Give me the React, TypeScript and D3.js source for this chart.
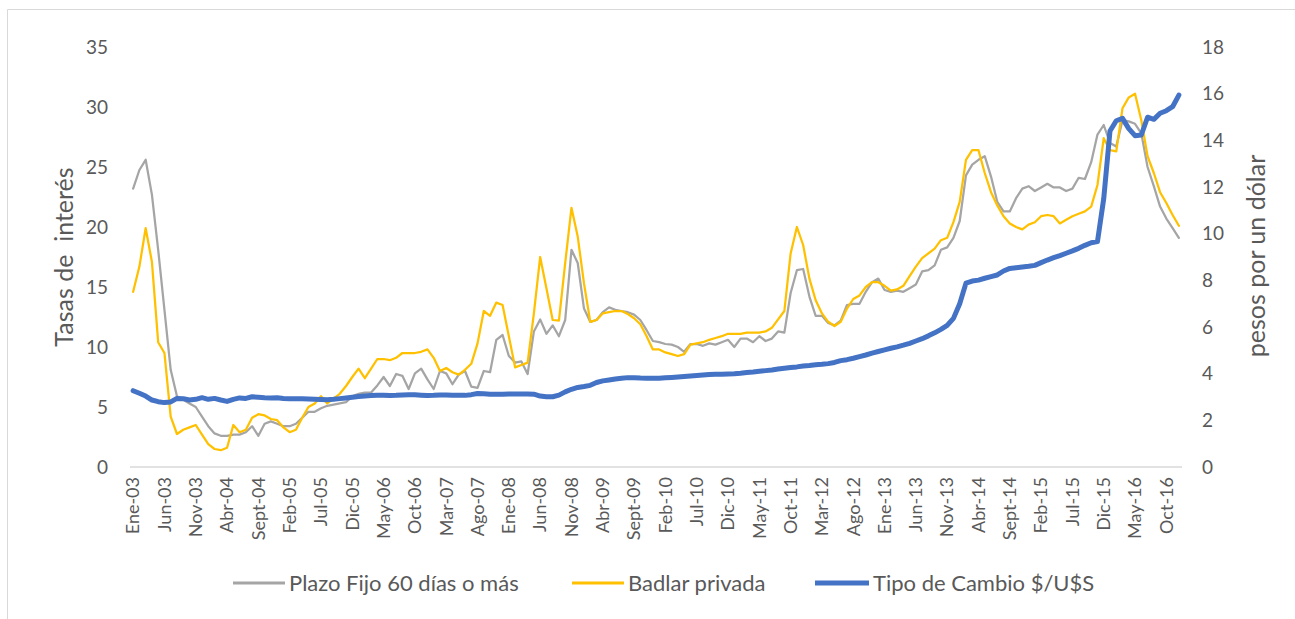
import React from "react";
import * as d3 from "d3";

const plazoFijo: number[] = [
  23.2, 24.75, 25.6, 22.7, 18.1, 13.1, 8.1, 5.9, 5.6, 5.3, 5.0, 4.2,
  3.4, 2.8, 2.6, 2.6, 2.7, 2.7, 2.9, 3.4, 2.6, 3.6, 3.8, 3.6,
  3.4, 3.4, 3.6, 4.1, 4.6, 4.6, 4.9, 5.1, 5.2, 5.3, 5.4, 5.9,
  6.1, 6.2, 6.2, 6.8, 7.5, 6.75, 7.75, 7.6, 6.5, 7.8, 8.2, 7.3,
  6.5, 8.0, 7.8, 6.9, 7.7, 8.0, 6.7, 6.6, 8.0, 7.9, 10.6, 11.0,
  9.25, 8.7, 8.8, 7.75, 11.3, 12.3, 11.1, 11.8, 10.9, 12.25, 18.1, 17.0,
  13.2, 12.1, 12.25, 12.9, 13.3, 13.1, 13.0, 12.9, 12.7, 12.25, 11.4, 10.5,
  10.4, 10.25, 10.2, 10.0, 9.6, 10.25, 10.25, 10.1, 10.3, 10.2, 10.4, 10.6,
  10.0, 10.7, 10.7, 10.4, 10.9, 10.5, 10.7, 11.3, 11.2, 14.5, 16.4, 16.5,
  14.2, 12.6, 12.6, 12.0, 11.8, 12.2, 13.5, 13.6, 13.6, 14.6, 15.4, 15.7,
  14.75, 14.6, 14.7, 14.6, 14.9, 15.2, 16.3, 16.4, 16.8, 18.1, 18.3, 19.1,
  20.5, 24.3, 25.2, 25.6, 25.9, 24.2, 22.1, 21.3, 21.3, 22.4, 23.2, 23.4,
  23.0, 23.3, 23.6, 23.3, 23.3, 23.0, 23.2, 24.1, 24.0, 25.4, 27.7, 28.5,
  27.0, 26.7, 28.9, 28.8, 28.6, 27.8, 25.0, 23.4, 21.7, 20.7, 19.9, 19.1,
];

const badlar: number[] = [
  14.6, 16.7, 19.9, 17.1, 10.4, 9.5, 4.2, 2.75, 3.1, 3.3, 3.5, 2.7,
  1.9, 1.5, 1.4, 1.6, 3.5, 2.9, 3.1, 4.1, 4.4, 4.3, 4.0, 3.9,
  3.3, 2.9, 3.1, 4.1, 5.0, 5.3, 5.9, 5.3, 5.7, 6.1, 6.75, 7.5,
  8.2, 7.4, 8.2, 9.0, 9.0, 8.9, 9.1, 9.5, 9.5, 9.5, 9.6, 9.8,
  9.1, 8.0, 8.25, 7.9, 7.7, 8.1, 8.6, 10.3, 13.0, 12.6, 13.7, 13.5,
  10.9, 8.3, 8.5, 8.7, 12.8, 17.5, 14.9, 12.25, 12.2, 17.0, 21.6, 19.2,
  15.3, 12.1, 12.25, 12.8, 12.9, 13.0, 13.0, 12.75, 12.4, 11.9, 10.9, 9.8,
  9.8, 9.55, 9.4, 9.25, 9.4, 10.2, 10.3, 10.4, 10.6, 10.75, 10.9, 11.1,
  11.1, 11.1, 11.2, 11.2, 11.2, 11.3, 11.6, 12.3, 13.0, 17.8, 20.0, 18.5,
  15.7, 13.9, 12.8, 12.1, 11.75, 12.1, 13.2, 14.0, 14.3, 15.0, 15.4, 15.4,
  15.1, 14.7, 14.8, 15.1, 15.9, 16.7, 17.4, 17.8, 18.2, 18.9, 19.1, 20.4,
  22.1, 25.6, 26.4, 26.4, 24.5, 22.9, 21.8, 20.9, 20.3, 20.0, 19.8, 20.2,
  20.4, 20.9, 21.0, 20.9, 20.3, 20.6, 20.9, 21.1, 21.3, 21.7, 23.5, 27.4,
  26.4, 26.3, 29.9, 30.8, 31.1, 28.9, 25.9, 24.5, 22.9, 22.0, 21.0, 20.1,
];

const tipoCambio: number[] = [
  3.27, 3.16, 3.04, 2.87, 2.8, 2.76, 2.79, 2.94, 2.93, 2.87, 2.9, 2.97,
  2.9, 2.94, 2.87, 2.81, 2.9, 2.96, 2.94, 3.01, 2.99, 2.97, 2.96, 2.97,
  2.94, 2.93, 2.93, 2.92, 2.91, 2.9, 2.89, 2.88, 2.9, 2.93, 2.96, 2.99,
  3.02, 3.04, 3.06, 3.08, 3.07, 3.06, 3.07, 3.09, 3.1, 3.1, 3.08, 3.06,
  3.07, 3.09, 3.09, 3.07, 3.07, 3.07, 3.1, 3.15, 3.14, 3.12, 3.12, 3.12,
  3.13, 3.13, 3.13, 3.13, 3.12, 3.04, 3.01, 3.01, 3.08, 3.22, 3.33, 3.41,
  3.45, 3.5, 3.62, 3.69, 3.73, 3.77, 3.8, 3.83, 3.83, 3.81, 3.8, 3.8,
  3.8, 3.82, 3.84, 3.86, 3.88, 3.9, 3.92, 3.94, 3.96, 3.97, 3.98, 3.99,
  4.0, 4.02, 4.05, 4.07, 4.1, 4.13, 4.16, 4.2, 4.23, 4.26, 4.29, 4.33,
  4.35, 4.38, 4.4, 4.43, 4.48, 4.56, 4.6, 4.66, 4.73, 4.8, 4.88, 4.95,
  5.02, 5.09, 5.15, 5.22, 5.3, 5.4, 5.5, 5.62, 5.75, 5.9, 6.07, 6.37,
  7.0, 7.88, 7.97, 8.01, 8.09, 8.16, 8.23, 8.4, 8.51, 8.54, 8.57, 8.6,
  8.64, 8.76, 8.87, 8.97, 9.06, 9.16, 9.26, 9.37, 9.5, 9.61, 9.66, 11.5,
  14.4, 14.84, 14.94, 14.5, 14.2, 14.23, 14.99, 14.9, 15.16, 15.27, 15.44, 15.94,
];

const tickLabels: string[] = [
  "Ene-03", "Jun-03", "Nov-03", "Abr-04", "Sept-04", "Feb-05", "Jul-05", "Dic-05",
  "May-06", "Oct-06", "Mar-07", "Ago-07", "Ene-08", "Jun-08", "Nov-08", "Abr-09",
  "Sept-09", "Feb-10", "Jul-10", "Dic-10", "May-11", "Oct-11", "Mar-12", "Ago-12",
  "Ene-13", "Jun-13", "Nov-13", "Abr-14", "Sept-14", "Feb-15", "Jul-15", "Dic-15",
  "May-16", "Oct-16",
];
const tickEvery = 5;

const leftTicks: number[] = [0, 5, 10, 15, 20, 25, 30, 35];
const rightTicks: number[] = [0, 2, 4, 6, 8, 10, 12, 14, 16, 18];

const seriesNames = ["Plazo Fijo 60 días o más", "Badlar privada", "Tipo de Cambio $/U$S"];

const W = 1295;
const H = 619;
const FONT = "Lato, Carlito, Calibri, 'Open Sans', sans-serif";
const TEXT = "#595959";
const GRAY = "#A5A5A5";
const GOLD = "#FFC000";
const BLUE = "#4472C4";

export default function App() {
  const idx = d3.range(plazoFijo.length);
  const x = d3.scalePoint<number>().domain(idx).range([130, 1182]).padding(0.5);
  const yL = d3.scaleLinear().domain([0, 35]).range([467, 47]);
  const yR = d3.scaleLinear().domain([0, 18]).range([467, 47]);

  const lineL = d3
    .line<number>()
    .x((_, i) => x(i) as number)
    .y((d) => yL(d));
  const lineR = d3
    .line<number>()
    .x((_, i) => x(i) as number)
    .y((d) => yR(d));

  const legendItems = [
    { name: seriesNames[0], color: GRAY, w: 3, x0: 233, x1: 285, tx: 289 },
    { name: seriesNames[1], color: GOLD, w: 3, x0: 572, x1: 624, tx: 628 },
    { name: seriesNames[2], color: BLUE, w: 5, x0: 815, x1: 869, tx: 873 },
  ];

  return (
    <svg
      width={W}
      height={H}
      style={{ position: "absolute", left: 0, top: 0, background: "#fff" }}
      fontFamily={FONT}
    >
      <rect x={0} y={0} width={W} height={H} fill="#fff" />
      <line x1={7.5} y1={9.5} x2={W} y2={9.5} stroke="#D9D9D9" strokeWidth={1} />
      <line x1={7.5} y1={9.5} x2={7.5} y2={H} stroke="#D9D9D9" strokeWidth={1} />

      {/* baseline */}
      <line x1={130} x2={1182} y1={yL(0)} y2={yL(0)} stroke="#D9D9D9" strokeWidth={1.5} />

      {/* left ticks */}
      {leftTicks.map((t) => (
        <text key={"l" + t} x={108} y={yL(t)} dy="0.35em" textAnchor="end" fontSize={19} fill={TEXT}>
          {t}
        </text>
      ))}
      {/* right ticks */}
      {rightTicks.map((t) => (
        <text key={"r" + t} x={1202} y={yR(t)} dy="0.35em" textAnchor="start" fontSize={19} fill={TEXT}>
          {t}
        </text>
      ))}

      {/* x tick labels */}
      {tickLabels.map((lab, k) => {
        const px = x(k * tickEvery) as number;
        return (
          <text
            key={lab}
            transform={`translate(${px},477) rotate(-90)`}
            dy="0.35em"
            textAnchor="end"
            fontSize={18}
            fill={TEXT}
          >
            {lab}
          </text>
        );
      })}

      {/* axis titles */}
      <text
        transform="translate(64,257) rotate(-90)"
        textAnchor="middle"
        dy="0.35em"
        fontSize={25}
        fill={TEXT}
        style={{ whiteSpace: "pre" }}
      >
        {"Tasas de  interés"}
      </text>
      <text
        transform="translate(1256,256) rotate(-90)"
        textAnchor="middle"
        dy="0.35em"
        fontSize={25}
        fill={TEXT}
      >
        pesos por un dólar
      </text>

      {/* series */}
      <path d={lineL(plazoFijo) || ""} fill="none" stroke={GRAY} strokeWidth={2.25} strokeLinejoin="round" strokeLinecap="round" />
      <path d={lineL(badlar) || ""} fill="none" stroke={GOLD} strokeWidth={2.25} strokeLinejoin="round" strokeLinecap="round" />
      <path d={lineR(tipoCambio) || ""} fill="none" stroke={BLUE} strokeWidth={5} strokeLinejoin="round" strokeLinecap="round" />

      {/* legend */}
      {legendItems.map((it) => (
        <g key={it.name}>
          <line x1={it.x0} x2={it.x1} y1={583} y2={583} stroke={it.color} strokeWidth={it.w} />
          <text x={it.tx} y={583} dy="0.35em" fontSize={22} fill={TEXT}>
            {it.name}
          </text>
        </g>
      ))}
    </svg>
  );
}
